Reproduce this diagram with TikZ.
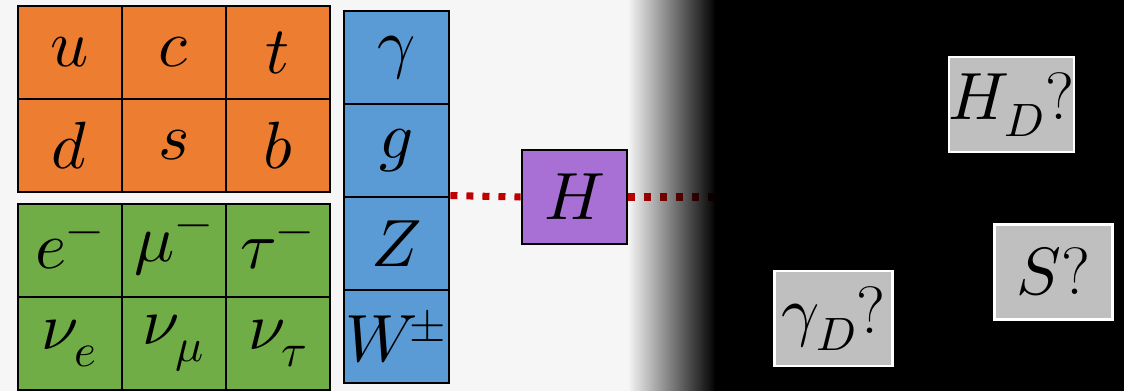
\documentclass[tikz,border=0pt]{standalone}
\usepackage{unicode-math}
\usetikzlibrary{positioning,fadings}
\definecolor{quarkorange}{HTML}{ED7D31}
\definecolor{leptongreen}{HTML}{70AD47}
\definecolor{bosonblue}{HTML}{5B9BD5}
\definecolor{higgspurple}{HTML}{A86FD5}
\definecolor{hiddengray}{HTML}{BFBFBF}
\definecolor{bglight}{HTML}{F6F6F7}
\definecolor{portalred}{HTML}{C00000}
\newcommand\cellfont{\fontsize{19}{23}\selectfont}
% the dark sector: transparent on the left, opaque on the right
\tikzfading[name=fade to dark, left color=transparent!100, right color=transparent!0]
\tikzset{
  cell/.style={rectangle,draw,line width=0.8pt,minimum width=10.4mm,minimum height=9.3mm,inner sep=0,font=\cellfont},
  quark/.style={cell,fill=quarkorange},
  lepton/.style={cell,fill=leptongreen},
  boson/.style={cell,fill=bosonblue,text width=10.5mm,align=center},
  higgs/.style={cell,fill=higgspurple,minimum width=10.5mm,minimum height=9.4mm},
  dark/.style={rectangle,draw=white,line width=0.7pt,fill=hiddengray,minimum width=11.8mm,minimum height=9.5mm,inner sep=0,font=\cellfont},
  portal/.style={portalred,line width=2pt,dash pattern=on 0.07cm off 0.09cm},
}
\begin{document}
\begin{tikzpicture}[x=0.01cm,y=-0.01cm]
  \useasboundingbox (0,0) rectangle (1124,391);
  \fill[bglight] (0,0) rectangle (1124,391);
  % standard model particles
  \foreach \lab/\c/\r [count=\i] in {u/0/0,c/1/0,t/2/0,d/0/1,s/1/1,b/2/1}
    \node[quark] (q\i) at ({70+104*\c},{52.5+93*\r}) {$\lab$};
  \foreach \lab/\c/\r [count=\i] in {e^-/0/0,\mu^-/1/0,\tau^-/2/0,\nu_e/0/1,\nu_\mu/1/1,\nu_\tau/2/1}
    \node[lepton] (l\i) at ({70+104*\c},{250.5+93*\r}) {$\lab$};
  \foreach \lab [count=\i] in {\gamma,g,Z,W^{\!\pm}}
    \node[boson] (b\i) at (396.5,{57.5+93*(\i-1)}) {$\lab$};
  % the higgs portal
  \node[higgs] (h) at (574.5,197) {$H$};
  \coordinate (portalend) at (730,197);
  \draw[portal] (b3.north east) -- (h.west);
  \draw[portal] (h.east) -- (portalend);
  % the dark sector
  \fill[black,path fading=fade to dark] (628,0) rectangle (716,391);
  \fill[black] (715,0) rectangle (1124,391);
  \node[dark] (hd) at (1011.5,104.5) {$H_D$?};
  \node[dark] (sq) at (1053.5,272) {$S$?};
  \node[dark] (gd) at (833.5,318.5) {$\gamma_D$?};
\end{tikzpicture}
\end{document}
